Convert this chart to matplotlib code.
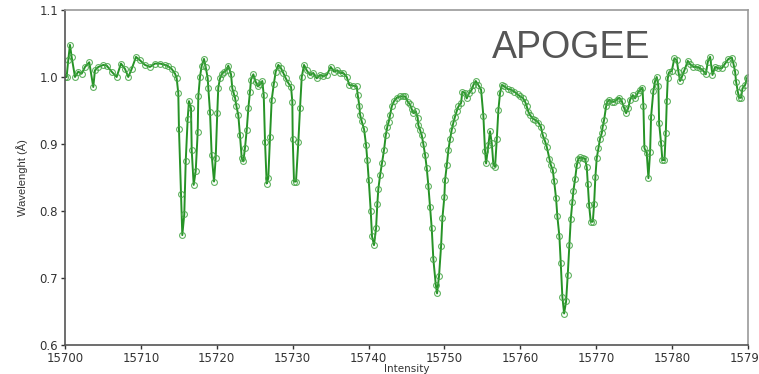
"""APOGEE spectrum snippet: green line with open-circle markers."""

import matplotlib
matplotlib.use("Agg")
import matplotlib.pyplot as plt
import numpy as np

# wavelength grid and normalised flux
wave = [
    15700.00, 15700.22, 15700.43, 15700.66, 15700.88, 15701.32, 15701.75, 15702.20,
    15702.64, 15703.20, 15703.73, 15703.95, 15704.39, 15705.05, 15705.50, 15706.15,
    15706.81, 15707.38, 15707.91, 15708.34, 15708.79, 15709.36, 15709.88, 15710.54,
    15711.20, 15711.86, 15712.52, 15713.18, 15713.61, 15714.06, 15714.50, 15714.72,
    15714.93, 15715.02, 15715.29, 15715.46, 15715.72, 15715.91, 15716.17, 15716.34,
    15716.61, 15716.70, 15716.96, 15717.23, 15717.49, 15717.57, 15717.79, 15718.02,
    15718.32, 15718.54, 15718.81, 15718.89, 15719.11, 15719.33, 15719.64, 15719.86,
    15720.07, 15720.20, 15720.43, 15720.65, 15720.96, 15721.31, 15721.52, 15721.88,
    15722.05, 15722.23, 15722.41, 15722.58, 15722.84, 15723.06, 15723.29, 15723.50,
    15723.72, 15723.95, 15724.16, 15724.38, 15724.51, 15724.82, 15725.13, 15725.40,
    15725.70, 15726.00, 15726.19, 15726.36, 15726.58, 15726.79, 15727.02, 15727.24,
    15727.51, 15727.77, 15728.11, 15728.47, 15728.77, 15729.09, 15729.43, 15729.79,
    15729.96, 15730.01, 15730.18, 15730.44, 15730.75, 15730.97, 15731.20, 15731.50,
    15731.85, 15732.29, 15732.72, 15733.17, 15733.61, 15734.04, 15734.49, 15735.02,
    15735.45, 15735.89, 15736.24, 15736.68, 15737.13, 15737.47, 15738.00, 15738.44,
    15738.58, 15738.79, 15738.88, 15739.10, 15739.41, 15739.67, 15739.84, 15740.03,
    15740.29, 15740.46, 15740.72, 15740.99, 15741.16, 15741.29, 15741.52, 15741.78,
    15742.04, 15742.27, 15742.48, 15742.66, 15742.83, 15743.06, 15743.36, 15743.72,
    15744.15, 15744.59, 15744.81, 15745.17, 15745.47, 15745.69, 15745.90, 15746.22,
    15746.48, 15746.56, 15746.79, 15747.01, 15747.22, 15747.45, 15747.67, 15747.88,
    15748.10, 15748.33, 15748.54, 15748.86, 15749.03, 15749.29, 15749.56, 15749.73,
    15749.99, 15750.08, 15750.31, 15750.52, 15750.74, 15750.96, 15751.18, 15751.40,
    15751.62, 15751.84, 15752.19, 15752.36, 15752.72, 15752.94, 15753.25, 15753.60,
    15753.81, 15754.13, 15754.47, 15754.83, 15755.13, 15755.35, 15755.49, 15755.79,
    15756.01, 15756.24, 15756.45, 15756.67, 15756.90, 15757.11, 15757.33, 15757.55,
    15757.90, 15758.35, 15758.78, 15759.22, 15759.66, 15759.97, 15760.32, 15760.63,
    15760.85, 15761.06, 15761.29, 15761.64, 15761.94, 15762.38, 15762.70, 15762.96,
    15763.26, 15763.48, 15763.83, 15764.01, 15764.28, 15764.45, 15764.71, 15764.88,
    15765.15, 15765.33, 15765.54, 15765.77, 15766.03, 15766.25, 15766.46, 15766.65,
    15766.86, 15766.99, 15767.22, 15767.44, 15767.65, 15767.87, 15768.23, 15768.53,
    15768.76, 15768.89, 15769.06, 15769.28, 15769.55, 15769.72, 15769.89, 15770.07,
    15770.29, 15770.51, 15770.73, 15770.86, 15771.04, 15771.30, 15771.47, 15771.74,
    15772.05, 15772.36, 15772.71, 15773.05, 15773.37, 15773.67, 15773.94, 15774.24,
    15774.46, 15774.82, 15775.12, 15775.48, 15775.78, 15776.09, 15776.22, 15776.35,
    15776.66, 15776.88, 15777.10, 15777.23, 15777.53, 15777.76, 15777.98, 15778.19,
    15778.29, 15778.55, 15778.72, 15778.99, 15779.17, 15779.30, 15779.43, 15779.60,
    15779.96, 15780.30, 15780.62, 15780.83, 15781.05, 15781.28, 15781.62, 15782.07,
    15782.37, 15782.81, 15783.26, 15783.69, 15784.12, 15784.44, 15784.71, 15785.01,
    15785.32, 15785.67, 15786.10, 15786.55, 15786.98, 15787.42, 15787.87, 15788.08,
    15788.30, 15788.43, 15788.66, 15788.83, 15789.09, 15789.27, 15789.62, 15789.85,
    15789.98,
]

flux = [
    1.000, 1.000, 1.025, 1.048, 1.030, 1.000, 1.008, 1.005,
    1.015, 1.022, 0.985, 1.010, 1.015, 1.018, 1.017, 1.008,
    1.000, 1.020, 1.012, 1.000, 1.012, 1.030, 1.025, 1.018,
    1.015, 1.020, 1.020, 1.018, 1.016, 1.012, 1.005, 0.998,
    0.976, 0.923, 0.826, 0.764, 0.795, 0.874, 0.938, 0.964,
    0.953, 0.891, 0.839, 0.860, 0.918, 0.971, 1.000, 1.017,
    1.027, 1.015, 0.998, 0.983, 0.948, 0.884, 0.844, 0.879,
    0.947, 0.984, 0.998, 1.004, 1.008, 1.010, 1.017, 1.004,
    0.983, 0.976, 0.969, 0.957, 0.943, 0.913, 0.879, 0.874,
    0.894, 0.921, 0.953, 0.978, 0.996, 1.004, 0.993, 0.986,
    0.989, 0.994, 0.973, 0.903, 0.841, 0.849, 0.911, 0.966,
    0.989, 1.008, 1.018, 1.013, 1.006, 0.998, 0.991, 0.985,
    0.963, 0.908, 0.844, 0.844, 0.903, 0.953, 1.000, 1.018,
    1.010, 1.003, 1.006, 0.998, 1.003, 1.001, 1.003, 1.015,
    1.008, 1.010, 1.006, 1.006, 1.000, 0.988, 0.987, 0.986,
    0.973, 0.957, 0.944, 0.934, 0.922, 0.899, 0.876, 0.846,
    0.800, 0.762, 0.749, 0.774, 0.811, 0.833, 0.853, 0.872,
    0.891, 0.913, 0.926, 0.933, 0.943, 0.956, 0.964, 0.969,
    0.971, 0.971, 0.971, 0.963, 0.959, 0.952, 0.946, 0.949,
    0.939, 0.928, 0.921, 0.913, 0.900, 0.884, 0.864, 0.838,
    0.806, 0.774, 0.728, 0.690, 0.677, 0.703, 0.748, 0.789,
    0.821, 0.846, 0.868, 0.891, 0.907, 0.921, 0.932, 0.941,
    0.949, 0.956, 0.961, 0.978, 0.976, 0.968, 0.976, 0.981,
    0.988, 0.994, 0.988, 0.981, 0.942, 0.890, 0.871, 0.899,
    0.919, 0.901, 0.869, 0.866, 0.907, 0.951, 0.976, 0.988,
    0.986, 0.982, 0.981, 0.978, 0.974, 0.971, 0.969, 0.963,
    0.956, 0.948, 0.943, 0.938, 0.936, 0.932, 0.926, 0.913,
    0.904, 0.896, 0.878, 0.869, 0.861, 0.845, 0.819, 0.792,
    0.762, 0.722, 0.672, 0.647, 0.665, 0.705, 0.749, 0.788,
    0.814, 0.830, 0.848, 0.868, 0.878, 0.880, 0.879, 0.878,
    0.865, 0.840, 0.809, 0.784, 0.784, 0.810, 0.851, 0.879,
    0.894, 0.908, 0.916, 0.926, 0.936, 0.956, 0.963, 0.966,
    0.963, 0.963, 0.966, 0.969, 0.964, 0.954, 0.946, 0.954,
    0.966, 0.973, 0.968, 0.976, 0.981, 0.984, 0.956, 0.894,
    0.886, 0.849, 0.888, 0.941, 0.979, 0.994, 1.000, 0.986,
    0.931, 0.901, 0.876, 0.876, 0.917, 0.964, 0.998, 1.007,
    1.009, 1.028, 1.025, 1.008, 0.994, 1.000, 1.010, 1.024,
    1.019, 1.015, 1.015, 1.013, 1.009, 1.004, 1.023, 1.030,
    1.003, 1.015, 1.013, 1.013, 1.020, 1.027, 1.029, 1.020,
    1.008, 0.993, 0.978, 0.969, 0.969, 0.983, 0.988, 0.998,
    1.000,
]

x_ticks = [15700, 15710, 15720, 15730, 15740, 15750, 15760, 15770, 15780, 15790]
y_ticks = [0.6, 0.7, 0.8, 0.9, 1.0, 1.1]

fig = plt.figure(figsize=(7.59, 3.74), dpi=100)
ax = fig.add_axes([0.0856, 0.0775, 0.8999, 0.8958])

ax.plot(wave, flux, color="green", linewidth=1.4, alpha=0.85,
        marker="o", markersize=4.2, markerfacecolor="none",
        markeredgecolor="#45a545", markeredgewidth=0.8)

ax.set_xlim(15700, 15790)
ax.set_ylim(0.6, 1.1)
ax.set_xticks(x_ticks)
ax.set_yticks(y_ticks)
ax.set_yticklabels([f"{v:.1f}" for v in y_ticks])
ax.tick_params(labelsize=8.5, colors="#333333", length=3, width=1.0, pad=2)

for side in ("left", "bottom"):
    ax.spines[side].set_color("#555555")
    ax.spines[side].set_linewidth(1.2)
for side in ("top", "right"):
    ax.spines[side].set_color("#999999")
    ax.spines[side].set_linewidth(1.2)

ax.set_xlabel("Intensity", fontsize=7.5, color="#333333", labelpad=-1)
ax.set_ylabel("Wavelenght (Å)", fontsize=8, color="#333333",
              family="Liberation Sans", labelpad=8)

fig.text(0.648, 0.845, "APOGEE", fontsize=27, color="#555555",
         family="Liberation Sans", va="baseline")

fig.savefig("out.png", dpi=100)
